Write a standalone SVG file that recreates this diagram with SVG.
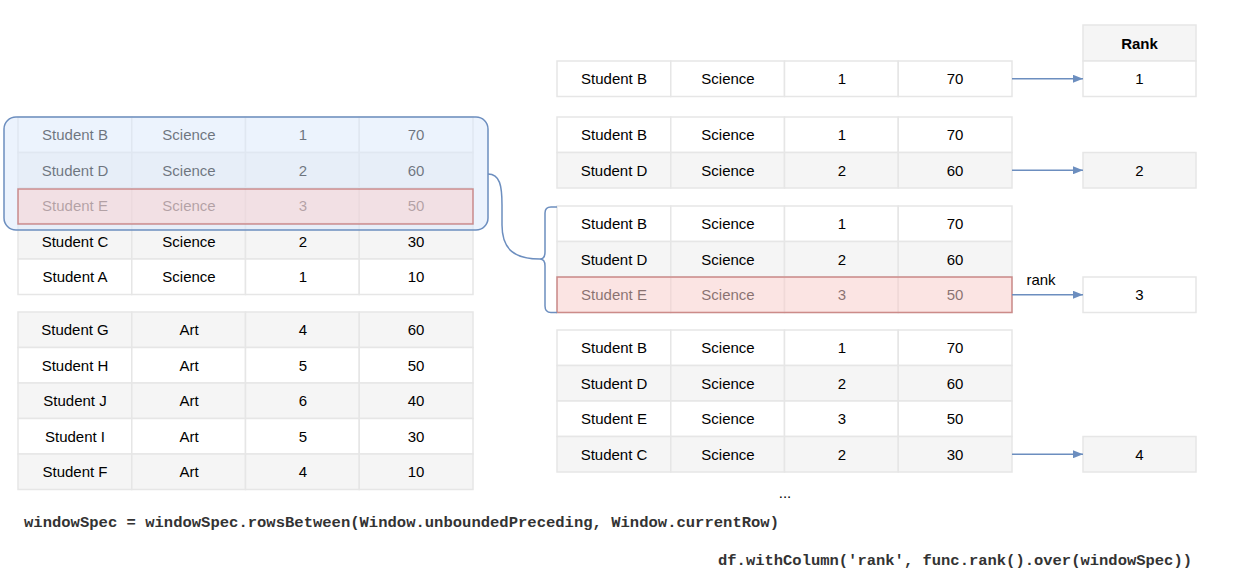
<svg xmlns="http://www.w3.org/2000/svg" width="1234" height="582" viewBox="0 0 1234 582">
<style>
.w{fill:#ffffff;stroke:#e6e6e6;stroke-width:1.5}
.g{fill:#f5f5f5;stroke:#e6e6e6;stroke-width:1.5}
text{font-family:"Liberation Sans",Arial,sans-serif;font-size:15px;fill:#000;text-anchor:middle}
.b{font-weight:bold}
.code{font-family:"Liberation Mono","Courier New",monospace;font-size:14px;font-weight:bold;fill:#333;text-anchor:start}
.conn{fill:none;stroke:#6c8ebf;stroke-width:1.5}
.blue{fill:#dae8fc;fill-opacity:0.5;stroke:#6c8ebf;stroke-width:1.5}
.red{fill:#f8cecc;fill-opacity:0.5;stroke:#b85450;stroke-opacity:0.6;stroke-width:1.5}
</style>
<defs>
<marker id="ah" markerWidth="10" markerHeight="8" refX="10" refY="4" orient="auto" markerUnits="userSpaceOnUse">
<path d="M0,0 L10,4 L0,8 Z" fill="#6c8ebf"/>
</marker>
</defs>

<g id="left-science">
<rect class="w" x="18" y="117" width="113.75" height="35.5"/><rect class="w" x="131.75" y="117" width="113.75" height="35.5"/><rect class="w" x="245.5" y="117" width="113.75" height="35.5"/><rect class="w" x="359.25" y="117" width="113.75" height="35.5"/>
<text x="75" y="140">Student B</text><text x="189" y="140">Science</text><text x="303" y="140">1</text><text x="416" y="140">70</text>
<rect class="g" x="18" y="152.5" width="113.75" height="35.5"/><rect class="g" x="131.75" y="152.5" width="113.75" height="35.5"/><rect class="g" x="245.5" y="152.5" width="113.75" height="35.5"/><rect class="g" x="359.25" y="152.5" width="113.75" height="35.5"/>
<text x="75" y="175.5">Student D</text><text x="189" y="175.5">Science</text><text x="303" y="175.5">2</text><text x="416" y="175.5">60</text>
<rect class="w" x="18" y="188" width="113.75" height="35.5"/><rect class="w" x="131.75" y="188" width="113.75" height="35.5"/><rect class="w" x="245.5" y="188" width="113.75" height="35.5"/><rect class="w" x="359.25" y="188" width="113.75" height="35.5"/>
<text x="75" y="211">Student E</text><text x="189" y="211">Science</text><text x="303" y="211">3</text><text x="416" y="211">50</text>
<rect class="g" x="18" y="223.5" width="113.75" height="35.5"/><rect class="g" x="131.75" y="223.5" width="113.75" height="35.5"/><rect class="g" x="245.5" y="223.5" width="113.75" height="35.5"/><rect class="g" x="359.25" y="223.5" width="113.75" height="35.5"/>
<text x="75" y="246.5">Student C</text><text x="189" y="246.5">Science</text><text x="303" y="246.5">2</text><text x="416" y="246.5">30</text>
<rect class="w" x="18" y="259" width="113.75" height="35.5"/><rect class="w" x="131.75" y="259" width="113.75" height="35.5"/><rect class="w" x="245.5" y="259" width="113.75" height="35.5"/><rect class="w" x="359.25" y="259" width="113.75" height="35.5"/>
<text x="75" y="282">Student A</text><text x="189" y="282">Science</text><text x="303" y="282">1</text><text x="416" y="282">10</text>
</g>

<g id="left-art">
<rect class="g" x="18" y="312" width="113.75" height="35.5"/><rect class="g" x="131.75" y="312" width="113.75" height="35.5"/><rect class="g" x="245.5" y="312" width="113.75" height="35.5"/><rect class="g" x="359.25" y="312" width="113.75" height="35.5"/>
<text x="75" y="335">Student G</text><text x="189" y="335">Art</text><text x="303" y="335">4</text><text x="416" y="335">60</text>
<rect class="w" x="18" y="347.5" width="113.75" height="35.5"/><rect class="w" x="131.75" y="347.5" width="113.75" height="35.5"/><rect class="w" x="245.5" y="347.5" width="113.75" height="35.5"/><rect class="w" x="359.25" y="347.5" width="113.75" height="35.5"/>
<text x="75" y="370.5">Student H</text><text x="189" y="370.5">Art</text><text x="303" y="370.5">5</text><text x="416" y="370.5">50</text>
<rect class="g" x="18" y="383" width="113.75" height="35.5"/><rect class="g" x="131.75" y="383" width="113.75" height="35.5"/><rect class="g" x="245.5" y="383" width="113.75" height="35.5"/><rect class="g" x="359.25" y="383" width="113.75" height="35.5"/>
<text x="75" y="406">Student J</text><text x="189" y="406">Art</text><text x="303" y="406">6</text><text x="416" y="406">40</text>
<rect class="w" x="18" y="418.5" width="113.75" height="35.5"/><rect class="w" x="131.75" y="418.5" width="113.75" height="35.5"/><rect class="w" x="245.5" y="418.5" width="113.75" height="35.5"/><rect class="w" x="359.25" y="418.5" width="113.75" height="35.5"/>
<text x="75" y="441.5">Student I</text><text x="189" y="441.5">Art</text><text x="303" y="441.5">5</text><text x="416" y="441.5">30</text>
<rect class="g" x="18" y="454" width="113.75" height="35.5"/><rect class="g" x="131.75" y="454" width="113.75" height="35.5"/><rect class="g" x="245.5" y="454" width="113.75" height="35.5"/><rect class="g" x="359.25" y="454" width="113.75" height="35.5"/>
<text x="75" y="477">Student F</text><text x="189" y="477">Art</text><text x="303" y="477">4</text><text x="416" y="477">10</text>
</g>

<g id="window-overlay">
<rect class="blue" x="4" y="117" width="484" height="113" rx="12"/>
<rect class="red" x="18" y="189" width="455" height="35"/>
</g>

<g id="frame-1">
<rect class="w" x="557" y="61" width="113.75" height="35.5"/><rect class="w" x="670.75" y="61" width="113.75" height="35.5"/><rect class="w" x="784.5" y="61" width="113.75" height="35.5"/><rect class="w" x="898.25" y="61" width="113.75" height="35.5"/>
<text x="614" y="84">Student B</text><text x="728" y="84">Science</text><text x="842" y="84">1</text><text x="955" y="84">70</text>
</g>

<g id="frame-2">
<rect class="w" x="557" y="117" width="113.75" height="35.5"/><rect class="w" x="670.75" y="117" width="113.75" height="35.5"/><rect class="w" x="784.5" y="117" width="113.75" height="35.5"/><rect class="w" x="898.25" y="117" width="113.75" height="35.5"/>
<text x="614" y="140">Student B</text><text x="728" y="140">Science</text><text x="842" y="140">1</text><text x="955" y="140">70</text>
<rect class="g" x="557" y="152.5" width="113.75" height="35.5"/><rect class="g" x="670.75" y="152.5" width="113.75" height="35.5"/><rect class="g" x="784.5" y="152.5" width="113.75" height="35.5"/><rect class="g" x="898.25" y="152.5" width="113.75" height="35.5"/>
<text x="614" y="175.5">Student D</text><text x="728" y="175.5">Science</text><text x="842" y="175.5">2</text><text x="955" y="175.5">60</text>
</g>

<g id="frame-3">
<rect class="w" x="557" y="206" width="113.75" height="35.5"/><rect class="w" x="670.75" y="206" width="113.75" height="35.5"/><rect class="w" x="784.5" y="206" width="113.75" height="35.5"/><rect class="w" x="898.25" y="206" width="113.75" height="35.5"/>
<text x="614" y="229">Student B</text><text x="728" y="229">Science</text><text x="842" y="229">1</text><text x="955" y="229">70</text>
<rect class="g" x="557" y="241.5" width="113.75" height="35.5"/><rect class="g" x="670.75" y="241.5" width="113.75" height="35.5"/><rect class="g" x="784.5" y="241.5" width="113.75" height="35.5"/><rect class="g" x="898.25" y="241.5" width="113.75" height="35.5"/>
<text x="614" y="264.5">Student D</text><text x="728" y="264.5">Science</text><text x="842" y="264.5">2</text><text x="955" y="264.5">60</text>
<rect class="w" x="557" y="277" width="113.75" height="35.5"/><rect class="w" x="670.75" y="277" width="113.75" height="35.5"/><rect class="w" x="784.5" y="277" width="113.75" height="35.5"/><rect class="w" x="898.25" y="277" width="113.75" height="35.5"/>
<text x="614" y="300">Student E</text><text x="728" y="300">Science</text><text x="842" y="300">3</text><text x="955" y="300">50</text>
<rect class="red" x="557" y="277" width="455" height="35.5" style="fill-opacity:0.55"/>
</g>

<g id="frame-4">
<rect class="w" x="557" y="330" width="113.75" height="35.5"/><rect class="w" x="670.75" y="330" width="113.75" height="35.5"/><rect class="w" x="784.5" y="330" width="113.75" height="35.5"/><rect class="w" x="898.25" y="330" width="113.75" height="35.5"/>
<text x="614" y="353">Student B</text><text x="728" y="353">Science</text><text x="842" y="353">1</text><text x="955" y="353">70</text>
<rect class="g" x="557" y="365.5" width="113.75" height="35.5"/><rect class="g" x="670.75" y="365.5" width="113.75" height="35.5"/><rect class="g" x="784.5" y="365.5" width="113.75" height="35.5"/><rect class="g" x="898.25" y="365.5" width="113.75" height="35.5"/>
<text x="614" y="388.5">Student D</text><text x="728" y="388.5">Science</text><text x="842" y="388.5">2</text><text x="955" y="388.5">60</text>
<rect class="w" x="557" y="401" width="113.75" height="35.5"/><rect class="w" x="670.75" y="401" width="113.75" height="35.5"/><rect class="w" x="784.5" y="401" width="113.75" height="35.5"/><rect class="w" x="898.25" y="401" width="113.75" height="35.5"/>
<text x="614" y="424">Student E</text><text x="728" y="424">Science</text><text x="842" y="424">3</text><text x="955" y="424">50</text>
<rect class="g" x="557" y="436.5" width="113.75" height="35.5"/><rect class="g" x="670.75" y="436.5" width="113.75" height="35.5"/><rect class="g" x="784.5" y="436.5" width="113.75" height="35.5"/><rect class="g" x="898.25" y="436.5" width="113.75" height="35.5"/>
<text x="614" y="459.5">Student C</text><text x="728" y="459.5">Science</text><text x="842" y="459.5">2</text><text x="955" y="459.5">30</text>
<text x="785" y="498">...</text>
</g>

<g id="rank-column">
<rect class="g" x="1083" y="25" width="113" height="36"/><text class="b" x="1139.5" y="49">Rank</text>
<rect class="w" x="1083" y="61" width="113" height="35.5"/><text x="1139.5" y="84">1</text>
<rect class="g" x="1083" y="152.5" width="113" height="35.5"/><text x="1139.5" y="176">2</text>
<rect class="w" x="1083" y="277" width="113" height="35.5"/><text x="1139.5" y="300">3</text>
<rect class="g" x="1083" y="436.5" width="113" height="35.5"/><text x="1139.5" y="460">4</text>
</g>

<g id="connectors">
<path class="conn" d="M488,174 C500,174 502,186 502,205 L502,225 C502,250 515,259 540,259"/>
<path class="conn" d="M557,207 L551,207 Q545,207 545,213 L545,252 Q545,259 540,259 Q545,259 545,266 L545,306 Q545,312.5 551,312.5 L557,312.5"/>
<line class="conn" x1="1012" y1="78.75" x2="1083" y2="78.75" marker-end="url(#ah)"/>
<line class="conn" x1="1012" y1="170.25" x2="1083" y2="170.25" marker-end="url(#ah)"/>
<line class="conn" x1="1012" y1="294.75" x2="1083" y2="294.75" marker-end="url(#ah)"/>
<line class="conn" x1="1012" y1="454.25" x2="1083" y2="454.25" marker-end="url(#ah)"/>
<text x="1041" y="285" style="font-size:15px">rank</text>
</g>

<g id="code">
<text class="code" x="24" y="527" textLength="755" lengthAdjust="spacingAndGlyphs">windowSpec = windowSpec.rowsBetween(Window.unboundedPreceding, Window.currentRow)</text>
<text class="code" x="718" y="565" textLength="474" lengthAdjust="spacingAndGlyphs">df.withColumn('rank', func.rank().over(windowSpec))</text>
</g>
</svg>
